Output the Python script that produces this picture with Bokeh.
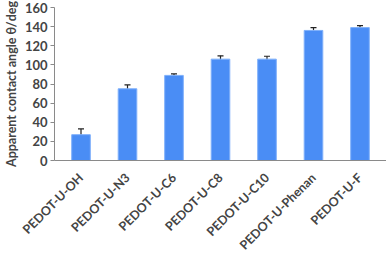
import math
from bokeh.plotting import figure
from bokeh.models import ColumnDataSource, Whisker, FactorRange, TeeHead
from bokeh.embed import file_html
from bokeh.resources import INLINE

categories = ["PEDOT-U-OH", "PEDOT-U-N3", "PEDOT-U-C6", "PEDOT-U-C8",
              "PEDOT-U-C10", "PEDOT-U-Phenan", "PEDOT-U-F"]
angles = [27, 75, 89, 106, 106, 136, 139]
errors = [6, 4, 1.5, 3.5, 3, 3, 2]
y_ticks = [0, 20, 40, 60, 80, 100, 120, 140, 160]

src = ColumnDataSource(dict(
    x=categories, top=angles,
    upper=[a + e for a, e in zip(angles, errors)],
    lower=[a - e for a, e in zip(angles, errors)],
))

p = figure(x_range=FactorRange(*categories, range_padding=0.02), y_range=(0, 160),
           frame_width=332, frame_height=153, output_backend="svg", toolbar_location=None,
           min_border_left=44, min_border_right=0, min_border_top=7, min_border_bottom=10)
p.vbar(x="x", top="top", width=0.4, source=src, fill_color="#4a8df5",
       line_color="#7fb0fa", line_width=1)
w = Whisker(base="x", upper="upper", lower="lower", source=src,
            line_color="#222222", line_width=1.2,
            upper_head=TeeHead(size=6, line_color="#222222", line_width=1.2),
            lower_head=TeeHead(size=6, line_color="#222222", line_width=1.2))
p.add_layout(w)

p.grid.visible = False
p.outline_line_color = None
p.background_fill_color = "white"
p.border_fill_color = "white"

p.yaxis.ticker = y_ticks
p.yaxis.axis_label = "Apparent contact angle θ/deg"
p.yaxis.axis_label_text_font = "Lato"
p.yaxis.axis_label_text_font_style = "bold"
p.yaxis.axis_label_text_font_size = "12.5px"
p.yaxis.axis_label_standoff = 3
p.yaxis.major_label_text_font = "Lato"
p.yaxis.major_label_text_font_style = "bold"
p.yaxis.major_label_text_font_size = "13px"
p.yaxis.major_label_standoff = 3
p.yaxis.major_tick_out = 4
p.yaxis.major_tick_in = 0
p.yaxis.minor_tick_line_color = None
p.yaxis.axis_line_color = "#8a8a8a"
p.yaxis.major_tick_line_color = "#8a8a8a"

p.xaxis.major_label_orientation = math.pi / 4
p.xaxis.major_label_text_font = "Lato"
p.xaxis.major_label_text_font_style = "bold"
p.xaxis.major_label_text_font_size = "12.5px"
p.xaxis.major_label_standoff = 9
p.xaxis.major_tick_line_color = None
p.xaxis.minor_tick_line_color = None
p.xaxis.axis_line_color = "#8a8a8a"

open("out.html", "w").write(file_html(p, INLINE))
